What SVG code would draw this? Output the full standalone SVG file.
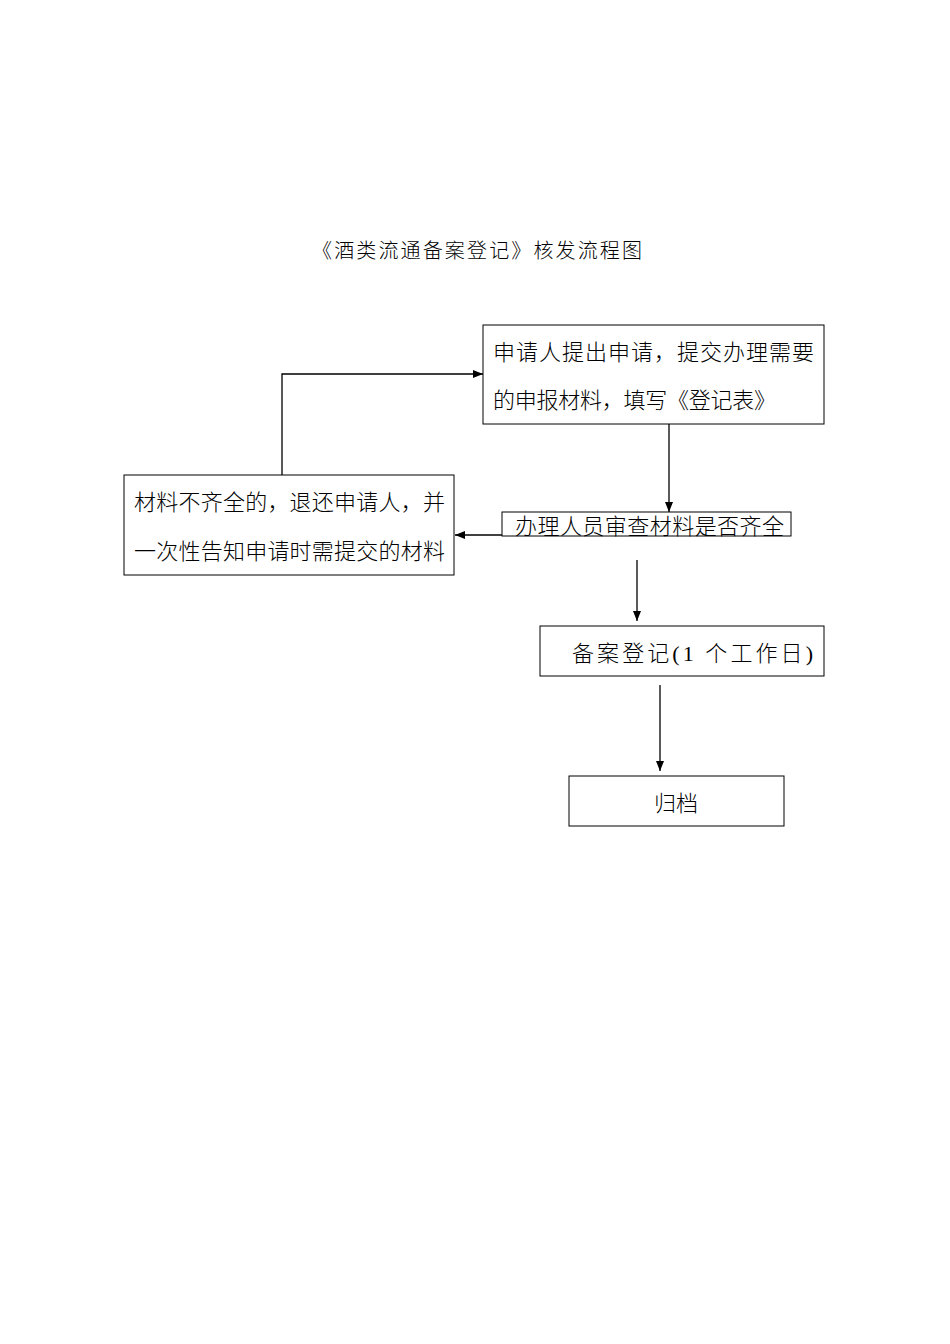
<svg xmlns="http://www.w3.org/2000/svg" width="950" height="1344" viewBox="0 0 950 1344">
<style>
text{font-family:"Liberation Serif","Noto Sans CJK SC",serif;fill:#000;font-weight:300}
.b{fill:#fff;stroke:#000;stroke-width:1}
.c{fill:none;stroke:#000;stroke-width:1.3}
.t{font-size:22px}
</style>
<defs><marker id="a" markerWidth="10" markerHeight="8" refX="10" refY="4" orient="auto" markerUnits="userSpaceOnUse"><path d="M0,0L10,4L0,8z" fill="#000"/></marker></defs>
<rect width="950" height="1344" fill="#fff"/>
<text x="312" y="258" font-size="20" textLength="330" lengthAdjust="spacing">《酒类流通备案登记》核发流程图</text>
<g id="connectors">
<path class="c" d="M669,424V512" marker-end="url(#a)"/>
<path class="c" d="M502,535H455" marker-end="url(#a)"/>
<path class="c" d="M282,475V374H483" marker-end="url(#a)"/>
<path class="c" d="M637,560V621" marker-end="url(#a)"/>
<path class="c" d="M660,685V771" marker-end="url(#a)"/>
</g>
<g id="n1"><rect class="b" x="483" y="325" width="341" height="99"/>
<text class="t" x="493" y="360" textLength="321" lengthAdjust="spacing">申请人提出申请，提交办理需要</text>
<text class="t" x="493" y="408" textLength="283" lengthAdjust="spacing">的申报材料，填写《登记表》</text></g>
<g id="n2"><rect class="b" x="502" y="512" width="289" height="24"/>
<text class="t" x="515" y="534" textLength="269" lengthAdjust="spacing">办理人员审查材料是否齐全</text></g>
<g id="n3"><rect class="b" x="124" y="475" width="330" height="100"/>
<text class="t" x="134" y="510" textLength="311" lengthAdjust="spacing">材料不齐全的，退还申请人，并</text>
<text class="t" x="134" y="559" textLength="311" lengthAdjust="spacing">一次性告知申请时需提交的材料</text></g>
<g id="n4"><rect class="b" x="540" y="626" width="284" height="50"/>
<text class="t" x="572" y="661" textLength="241" lengthAdjust="spacing">备案登记(1 个工作日)</text></g>
<g id="n5"><rect class="b" x="569" y="776" width="215" height="50"/>
<text class="t" x="654" y="811">归档</text></g>
</svg>
